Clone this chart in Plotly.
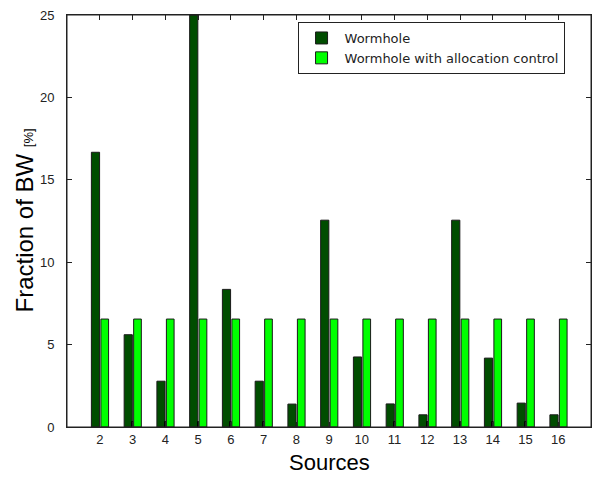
import plotly.graph_objects as go

sources = [2, 3, 4, 5, 6, 7, 8, 9, 10, 11, 12, 13, 14, 15, 16]
wormhole = [16.67, 5.6, 2.78, 25, 8.35, 2.78, 1.39, 12.55, 4.25, 1.4, 0.74, 12.55, 4.18, 1.45, 0.74]
hidden_series = [0, 0.35, 0.35, 0.35, 0.35, 0.35, 0, 0, 0, 0.35, 0.35, 0.35, 0.35, 0.35, 0]
alloc_control = [6.55] * 15
x_ticks = list(range(2, 17))
y_ticks = [0, 5, 10, 15, 20, 25]

DARK = "rgb(0,77,0)"
BRIGHT = "rgb(0,255,0)"
EDGE = "#1a1a1a"
FONT = "Liberation Sans, Arial, sans-serif"

fig = go.Figure()
fig.add_trace(go.Bar(x=sources, y=wormhole, name="Wormhole",
                     offset=-0.255, width=0.25,
                     marker=dict(color=DARK, line=dict(color=EDGE, width=1))))
fig.add_trace(go.Bar(x=sources, y=hidden_series, name="",
                     offset=-0.03, width=0.06, showlegend=False,
                     marker=dict(color="black", line=dict(color="black", width=0))))
fig.add_trace(go.Bar(x=sources, y=alloc_control, name="Wormhole with allocation control",
                     offset=0.035, width=0.235,
                     marker=dict(color=BRIGHT, line=dict(color=EDGE, width=1))))

axis_common = dict(showline=True, linecolor="#222", linewidth=1, mirror="allticks",
                   ticks="inside", ticklen=5, tickcolor="#222", showgrid=False,
                   zeroline=False, automargin=False,
                   tickfont=dict(family=FONT, size=13, color="#222"))

fig.update_layout(
    width=592, height=477,
    margin=dict(l=67, r=1, t=15, b=50, autoexpand=False),
    paper_bgcolor="white", plot_bgcolor="white",
    barmode="overlay",
    font=dict(family=FONT, color="black"),
    xaxis=dict(range=[1, 17], tickvals=x_ticks, ticktext=[str(v) for v in x_ticks],
               **axis_common),
    yaxis=dict(range=[0, 25], tickvals=y_ticks, ticklabelstandoff=9,
               **axis_common),
    legend=dict(x=0.44, y=0.983, xanchor="left", yanchor="top",
                bgcolor="white", bordercolor="#222", borderwidth=1,
                font=dict(size=13, color="#222", family="DejaVu Sans, sans-serif"),
                itemwidth=36, tracegroupgap=0),
    shapes=[dict(type="rect", xref="paper", yref="paper", x0=0, y0=0, x1=1, y1=1,
                 line=dict(color="#222", width=1), fillcolor="rgba(0,0,0,0)", layer="above")],
    annotations=[
        dict(text="Sources", xref="paper", yref="paper", x=0.5, y=-0.087,
             xanchor="center", yanchor="middle", showarrow=False,
             font=dict(size=22, family=FONT, color="black")),
        dict(text="Fraction of BW <span style='font-size:13px'>[%]</span>",
             xref="paper", yref="paper", x=-0.083, y=0.5, textangle=-90,
             xanchor="center", yanchor="middle", showarrow=False,
             font=dict(size=24, family=FONT, color="black")),
    ],
)

fig.write_html("out.html", config={"displayModeBar": False},
               post_script="document.body.style.margin='0';document.body.style.overflow='hidden';")
